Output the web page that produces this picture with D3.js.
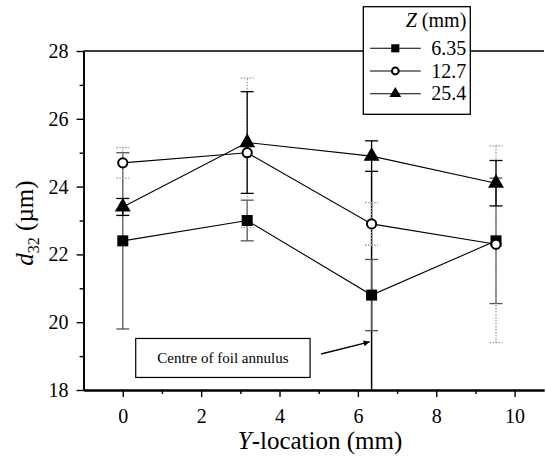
<!DOCTYPE html>
<html>
<head>
<meta charset="utf-8">
<script src="https://cdn.jsdelivr.net/npm/d3@7"></script>
<style>
  body { margin: 0; background: #fff; }
  svg text { font-family: "Liberation Serif", "Times New Roman", serif; fill: #000; }
</style>
</head>
<body>
<script>
(function () {
  'use strict';

  // Y-location (mm) of the measurement points
  const locations = [0, 3.175, 6.35, 9.525];

  // series = Z (mm)
  const zLabels = ['6.35', '12.7', '25.4'];

  const d32_z635 = [22.4, 23.0, 20.8, 22.4];
  const err_z635 = [2.6, 0.6, 1.05, 1.85];

  const d32_z127 = [24.7, 25.0, 22.9, 22.3];
  const err_z127 = [0.45, 2.2, 0.63, 2.9];

  const d32_z254 = [23.4, 25.3, 24.9, 24.1];
  const err_z254 = [0.25, 1.5, 0.45, 0.67];

  const xTicks = [0, 2, 4, 6, 8, 10];
  const xMinor = [1, 3, 5, 7, 9];
  const yTicks = [18, 20, 22, 24, 26, 28];
  const yMinor = [19, 21, 23, 25, 27];

  const annotationText = 'Centre of foil annulus';

  const initWidth = 546;
  const initHeight = 456;
  const margin = { left: 83.6, top: 51, right: 2, bottom: 66 };
  const width = initWidth - margin.left - margin.right;
  const height = initHeight - margin.top - margin.bottom;

  const svg = d3.select('body')
    .append('svg')
    .attr('width', initWidth)
    .attr('height', initHeight);

  const g = svg.append('g')
    .attr('transform', `translate(${margin.left},${margin.top})`);

  const xScale = d3.scaleLinear().domain([-1, 10.75]).range([0, width]);
  const yScale = d3.scaleLinear().domain([18, 28]).range([height, 0]);

  const series = [
    { name: zLabels[0], values: d32_z635, errs: err_z635, shape: 'square', barColor: '#555', dash: null },
    { name: zLabels[1], values: d32_z127, errs: err_z127, shape: 'circle', barColor: '#999', dash: '1.5,1.5' },
    { name: zLabels[2], values: d32_z254, errs: err_z254, shape: 'triangle', barColor: '#000', dash: null }
  ];

  // top frame line
  g.append('line')
    .attr('x1', 0).attr('x2', width)
    .attr('y1', yScale(28)).attr('y2', yScale(28))
    .attr('stroke', '#000').attr('stroke-width', 1.6);

  // axes
  g.append('g').attr('class', 'axis')
    .call(d3.axisLeft(yScale).tickValues(yTicks).tickSize(7).tickSizeOuter(0).tickPadding(8).tickFormat(d3.format('d')));
  g.append('g')
    .call(d3.axisLeft(yScale).tickValues(yMinor).tickSize(4).tickSizeOuter(0).tickFormat(''));

  g.append('g').attr('class', 'axis')
    .attr('transform', `translate(0,${height})`)
    .call(d3.axisBottom(xScale).tickValues(xTicks).tickSize(7).tickSizeOuter(0).tickPadding(12).tickFormat(d3.format('d')));
  g.append('g')
    .attr('transform', `translate(0,${height})`)
    .call(d3.axisBottom(xScale).tickValues(xMinor).tickSize(4).tickSizeOuter(0).tickFormat(''));

  g.selectAll('.domain').attr('stroke-width', 1.8);
  g.selectAll('.tick line').attr('stroke-width', 1.4);
  g.selectAll('.axis text').attr('font-size', 20).attr('font-family', '"Liberation Serif", serif');

  // axis titles
  const xTitle = svg.append('text')
    .attr('x', 320).attr('y', 449)
    .attr('text-anchor', 'middle')
    .attr('font-size', 25);
  xTitle.append('tspan').attr('font-style', 'italic').text('Y');
  xTitle.append('tspan').text('-location (mm)');

  const yTitle = svg.append('text')
    .attr('transform', 'translate(33,223) rotate(-90)')
    .attr('text-anchor', 'middle')
    .attr('font-size', 25);
  yTitle.append('tspan').attr('font-style', 'italic').text('d');
  yTitle.append('tspan').attr('font-size', 16).attr('dy', 6).text('32');
  yTitle.append('tspan').attr('dy', -6).text(' (\u00b5m)');

  // annotation: vertical line at centre of foil annulus, box and arrow
  g.append('line')
    .attr('x1', xScale(6.35)).attr('x2', xScale(6.35))
    .attr('y1', yScale(18)).attr('y2', yScale(24.47))
    .attr('stroke', '#000').attr('stroke-width', 1.5);

  g.append('rect')
    .attr('x', xScale(0.33)).attr('y', yScale(19.52))
    .attr('width', xScale(4.78) - xScale(0.33))
    .attr('height', yScale(18.37) - yScale(19.52))
    .attr('fill', '#fff').attr('stroke', '#000').attr('stroke-width', 1.2);

  g.append('text')
    .attr('x', (xScale(0.33) + xScale(4.78)) / 2)
    .attr('y', (yScale(19.52) + yScale(18.37)) / 2 + 5)
    .attr('text-anchor', 'middle')
    .attr('font-size', 15)
    .text(annotationText);

  svg.append('defs').append('marker')
    .attr('id', 'arrow')
    .attr('viewBox', '0 0 10 10')
    .attr('refX', 10).attr('refY', 5)
    .attr('markerWidth', 5).attr('markerHeight', 4)
    .attr('orient', 'auto')
    .append('path').attr('d', 'M0,0 L10,5 L0,10 z').attr('fill', '#000');

  g.append('line')
    .attr('x1', xScale(5.06)).attr('y1', yScale(19.06))
    .attr('x2', xScale(6.3)).attr('y2', yScale(19.42))
    .attr('stroke', '#000').attr('stroke-width', 1.5)
    .attr('marker-end', 'url(#arrow)');

  // error bars
  const capW = 6.5;
  series.forEach(s => {
    const eb = g.append('g');
    locations.forEach((x, i) => {
      const cx = xScale(x);
      const lo = yScale(s.values[i] - s.errs[i]);
      const hi = yScale(s.values[i] + s.errs[i]);
      [[cx, lo, cx, hi], [cx - capW, lo, cx + capW, lo], [cx - capW, hi, cx + capW, hi]].forEach(p => {
        eb.append('line')
          .attr('x1', p[0]).attr('y1', p[1]).attr('x2', p[2]).attr('y2', p[3])
          .attr('stroke', s.barColor).attr('stroke-width', 1.3)
          .attr('stroke-dasharray', s.dash);
      });
    });
  });

  // lines
  const linePath = d3.line()
    .x((d, i) => xScale(locations[i]))
    .y(d => yScale(d));

  g.append('g').selectAll('path')
    .data(series)
    .enter()
    .append('path')
    .attr('d', d => linePath(d.values))
    .attr('fill', 'none')
    .attr('stroke', '#000')
    .attr('stroke-width', 1.1);

  // markers
  function drawMarker(sel, shape, scale) {
    if (shape === 'square') {
      sel.append('path').attr('d', d3.symbol(d3.symbolSquare, 121 * scale)())
        .attr('fill', '#000');
    } else if (shape === 'circle') {
      sel.append('circle').attr('r', 4.6 * Math.sqrt(scale))
        .attr('fill', '#fff').attr('stroke', '#000').attr('stroke-width', 2);
    } else {
      sel.append('path').attr('d', d3.symbol(d3.symbolTriangle, 110 * scale)())
        .attr('fill', '#000');
    }
  }

  series.forEach(s => {
    s.values.forEach((v, i) => {
      const m = g.append('g').attr('transform', `translate(${xScale(locations[i])},${yScale(v)})`);
      drawMarker(m, s.shape, 1);
    });
  });

  // legend
  const legend = svg.append('g').attr('transform', 'translate(363.3,6.7)');
  legend.append('rect')
    .attr('width', 107).attr('height', 107.6)
    .attr('fill', '#fff').attr('stroke', '#000').attr('stroke-width', 1.3);

  const lt = legend.append('text')
    .attr('x', 103).attr('y', 20.5)
    .attr('text-anchor', 'end')
    .attr('font-size', 20);
  lt.append('tspan').attr('font-style', 'italic').text('Z');
  lt.append('tspan').text(' (mm)');

  series.forEach((s, i) => {
    const row = legend.append('g').attr('transform', `translate(0,${41.6 + i * 22.7})`);
    row.append('line').attr('x1', 6.7).attr('x2', 57.4)
      .attr('stroke', '#000').attr('stroke-width', 1.1);
    const m = row.append('g').attr('transform', 'translate(32,0)');
    drawMarker(m, s.shape, 0.55);
    row.append('text')
      .attr('x', 103).attr('y', 6.5)
      .attr('text-anchor', 'end')
      .attr('font-size', 20)
      .text(s.name);
  });
})();
</script>
</body>
</html>
